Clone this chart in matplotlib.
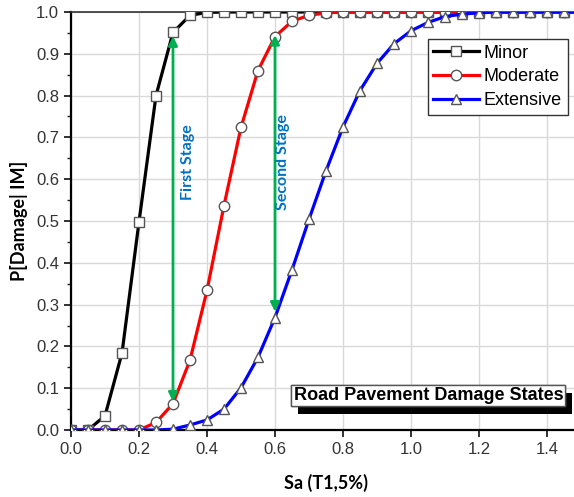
import matplotlib
matplotlib.use("Agg")
import matplotlib.pyplot as plt
import matplotlib.patheffects as pe
import numpy as np

sa = [round(0.05 * i, 2) for i in range(31)]  # 0.00 ... 1.50

minor = [0, 0, 0.034, 0.184, 0.498, 0.800, 0.951, 0.992, 0.999,
         1, 1, 1, 1, 1, 1, 1, 1, 1, 1, 1, 1, 1, 1, 1, 1, 1, 1, 1, 1, 1, 1]
moderate = [0, 0, 0, 0, 0, 0.018, 0.063, 0.167, 0.334, 0.537, 0.724, 0.860,
            0.941, 0.978, 0.992, 0.998, 1, 1, 1, 1, 1, 1, 1, 1, 1, 1, 1, 1, 1, 1, 1]
extensive = [0, 0, 0, 0, 0, 0, 0.002, 0.012, 0.024, 0.050, 0.101, 0.174, 0.269,
             0.383, 0.504, 0.620, 0.725, 0.812, 0.877, 0.924, 0.955, 0.975, 0.989,
             0.995, 0.998, 1, 1, 1, 1, 1, 1]

series_names = ["Minor", "Moderate", "Extensive"]
series_colors = ["#000000", "#ff0000", "#0000ff"]
series_markers = ["s", "o", "^"]

stage_x = [0.3, 0.6]
stage_lo = [0.068, 0.283]
stage_hi = [0.942, 0.945]
stage_labels = ["First Stage", "Second Stage"]

xticks = [0.0, 0.2, 0.4, 0.6, 0.8, 1.0, 1.2, 1.4]
yticks = [0.0, 0.1, 0.2, 0.3, 0.4, 0.5, 0.6, 0.7, 0.8, 0.9, 1.0]

fig = plt.figure(figsize=(5.74, 4.97), dpi=100)
ax = fig.add_axes([71 / 574, 1 - 430 / 497, 510 / 574, 418 / 497])

for vals, name, col, mk, z in zip([minor, moderate, extensive], series_names,
                                  series_colors, series_markers, [3, 4, 5]):
    ax.plot(sa, vals, color=col, lw=2.3, marker=mk, markersize=7.5,
            markerfacecolor="white", markeredgecolor="#555555",
            markeredgewidth=1.0, label=name, zorder=z)

for x, lo, hi, lab, dx in zip(stage_x, stage_lo, stage_hi, stage_labels, [0.045, 0.025]):
    ax.annotate("", xy=(x, hi), xytext=(x, lo),
                arrowprops=dict(arrowstyle="<|-|>", color="#00b050", lw=2.0,
                                mutation_scale=13, shrinkA=0, shrinkB=0),
                zorder=6)
    ax.text(x + dx, 0.64, lab,
            rotation=90, ha="center", va="center", color="#0070c0",
            fontsize=11.5, fontweight="bold", family="Lato", zorder=6)

ax.set_xlim(0, 1.5)
ax.set_ylim(0, 1.0)
ax.set_xticks(xticks)
ax.set_xticklabels([f"{v:.1f}" for v in xticks])
ax.set_yticks(yticks)
ax.set_yticklabels([f"{v:.1f}" for v in yticks])
ax.set_yticks(np.arange(0.05, 1.0, 0.1), minor=True)
ax.grid(True, which="major", color="#d9d9d9", lw=1.0, zorder=0)
ax.set_axisbelow(True)

for lab in ax.get_xticklabels() + ax.get_yticklabels():
    lab.set_family("Liberation Sans")
    lab.set_fontsize(12)
    lab.set_color("#333333")

ax.tick_params(which="major", direction="out", length=5, width=1.3, color="#222222")
ax.tick_params(which="minor", direction="out", length=3, width=1.0, color="#222222")
ax.spines["left"].set_linewidth(1.6)
ax.spines["bottom"].set_linewidth(1.6)
ax.spines["top"].set_linewidth(1.2)
ax.spines["top"].set_color("#333333")

ax.set_xlabel("Sa (T1,5%)", fontsize=13, fontweight="bold", family="Lato", labelpad=12)
ax.set_ylabel("P[Damage| IM]", fontsize=13, fontweight="bold", family="Lato", labelpad=6)

leg = ax.legend(loc="upper left", bbox_to_anchor=(0.70, 0.935),
                prop={"family": "Liberation Sans", "size": 13},
                handlelength=2.5, handletextpad=0.3, labelspacing=0.38,
                borderpad=0.3, borderaxespad=0, fancybox=False, framealpha=1,
                edgecolor="#333333")
leg.get_frame().set_linewidth(1.0)
leg.set_zorder(10)

t = ax.text(1.051, 0.082, "Road Pavement Damage States", ha="center", va="center",
            fontsize=13, fontweight="bold", family="Liberation Sans", zorder=10,
            bbox=dict(boxstyle="square,pad=0.12", facecolor="white",
                      edgecolor="#555555", lw=1.0))
t.get_bbox_patch().set_path_effects([
    pe.withSimplePatchShadow(offset=(4.5, -5.5), shadow_rgbFace="black", alpha=1.0),
    pe.Normal()])

fig.savefig("out.png", dpi=100)
